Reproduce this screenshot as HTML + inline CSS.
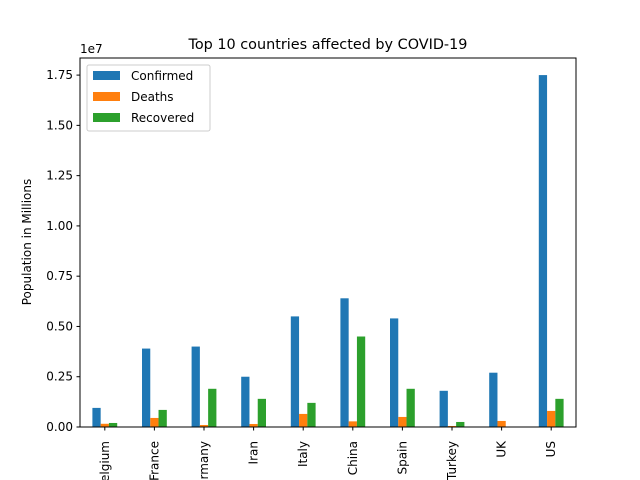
<!DOCTYPE html>
<html><head><meta charset="utf-8">
<style>
body{margin:0;background:#fff;}
svg{display:block;font-family:"DejaVu Sans","Liberation Sans",sans-serif;}
</style></head>
<body>
<svg id="chart" width="640" height="480" viewBox="0 0 640 480">
<rect width="640" height="480" fill="#fff"/>
<text x="328" y="49" font-size="14.4" text-anchor="middle">Top 10 countries affected by COVID-19</text>
<text x="80" y="53" font-size="12">1e7</text>
<text transform="translate(31,242) rotate(-90)" font-size="12" text-anchor="middle">Population in Millions</text>
<g id="bars"></g>
<g id="yticks"></g>
<g id="xticks"></g>
<rect x="80" y="58" width="496" height="369" fill="none" stroke="#000" stroke-width="1"/>
<g>
<rect x="87" y="65" width="123" height="66" rx="2" fill="#fff" fill-opacity="0.8" stroke="#ccc"/>
<g><rect x="93" y="71" width="27" height="9" fill="#1f77b4"/><text x="131" y="80" font-size="12">Confirmed</text></g>
<g><rect x="93" y="92" width="27" height="9" fill="#ff7f0e"/><text x="131" y="101" font-size="12">Deaths</text></g>
<g><rect x="93" y="113" width="27" height="9" fill="#2ca02c"/><text x="131" y="122" font-size="12">Recovered</text></g>
</g>
</svg>
<script>
const categories=["Belgium","France","Germany","Iran","Italy","China","Spain","Turkey","UK","US"];
const confirmed=[0.095,0.39,0.40,0.25,0.55,0.64,0.54,0.18,0.27,1.75];
const deaths=[0.016,0.045,0.01,0.015,0.065,0.028,0.05,0.005,0.03,0.08];
const recovered=[0.02,0.085,0.19,0.14,0.12,0.45,0.19,0.025,0.001,0.14];
const yTicks=[0,0.25,0.5,0.75,1.0,1.25,1.5,1.75];
const yTickLabels=["0.00","0.25","0.50","0.75","1.00","1.25","1.50","1.75"];
const NS="http://www.w3.org/2000/svg";
const L=80,R=576,T=58,B=427,YMAX=1.835;
const y=v=>B-(v/YMAX)*(B-T);
const step=(R-L)/categories.length;
const xc=i=>L+step*(i+0.5);
const bw=step*0.5/3;
const series=[[confirmed,"#1f77b4","confirmed"],[deaths,"#ff7f0e","deaths"],[recovered,"#2ca02c","recovered"]];
const bars=document.getElementById("bars");
series.forEach(([vals,col,nm],s)=>{
  vals.forEach((v,i)=>{
    const r=document.createElementNS(NS,"rect");
    r.setAttribute("x",xc(i)-1.5*bw+s*bw);
    r.setAttribute("y",y(v));
    r.setAttribute("width",bw);
    r.setAttribute("height",B-y(v));
    r.setAttribute("fill",col);
    
    
    bars.appendChild(r);
  });
});
const yt=document.getElementById("yticks");
yTicks.forEach((v,i)=>{
  const l=document.createElementNS(NS,"line");
  l.setAttribute("x1",L-3.5);l.setAttribute("x2",L);l.setAttribute("y1",y(v));l.setAttribute("y2",y(v));l.setAttribute("stroke","#000");
  
  
  yt.appendChild(l);
  const t=document.createElementNS(NS,"text");
  t.setAttribute("x",L-7);t.setAttribute("y",y(v)+4);t.setAttribute("font-size","12");t.setAttribute("text-anchor","end");
  t.textContent=yTickLabels[i];
  
  
  yt.appendChild(t);
});
const xt=document.getElementById("xticks");
categories.forEach((c,i)=>{
  const l=document.createElementNS(NS,"line");
  l.setAttribute("x1",xc(i));l.setAttribute("x2",xc(i));l.setAttribute("y1",B);l.setAttribute("y2",B+3.5);l.setAttribute("stroke","#000");
  
  
  xt.appendChild(l);
  const t=document.createElementNS(NS,"text");
  t.setAttribute("transform","translate("+(xc(i)+4)+","+(B+14)+") rotate(-90)");
  t.setAttribute("font-size","12");t.setAttribute("text-anchor","end");
  t.textContent=c;
  
  
  xt.appendChild(t);
});
</script>
</body></html>
